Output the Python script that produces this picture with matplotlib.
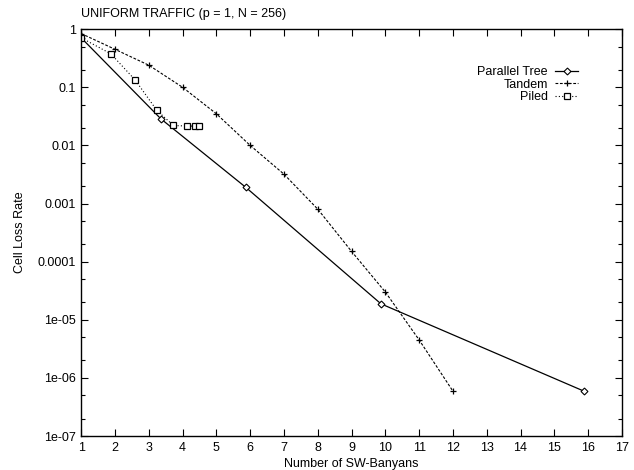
import matplotlib.pyplot as plt
import matplotlib.ticker as ticker
import numpy as np

plt.rcParams['font.family'] = ['Liberation Sans', 'DejaVu Sans']
plt.rcParams['font.size'] = 9

# Parallel Tree
x_tree = np.array([1.0, 3.36, 5.87, 9.87, 15.88])
y_tree = np.array([0.71, 0.0286, 0.0019, 1.88e-5, 5.9e-7])

# Tandem
x_tandem = np.array([1, 2, 3, 4, 5, 6, 7, 8, 9, 10, 11, 12])
y_tandem = np.array([0.84, 0.45, 0.24, 0.1, 0.035, 0.01, 0.0032, 0.0008,
                     0.00015, 3.0e-5, 4.5e-6, 5.9e-7])

# Piled
x_piled = np.array([1.0, 1.88, 2.6, 3.24, 3.73, 4.13, 4.37, 4.49])
y_piled = np.array([0.71, 0.376, 0.133, 0.04, 0.022, 0.0215, 0.0215, 0.0215])

fig = plt.figure(figsize=(6.34, 4.70), dpi=100)
ax = fig.add_axes([0.128, 0.0723, 0.853, 0.8657])

ax.plot(x_tree, y_tree, '-', color='black', lw=0.9, marker='D', markersize=3.5,
        markerfacecolor='white', markeredgewidth=0.8, label='Parallel Tree')
ax.plot(x_tandem, y_tandem, color='black', lw=0.8, dashes=(2.5, 1.5), marker='+',
        markersize=5, markeredgewidth=0.9, label='Tandem')
ax.plot(x_piled, y_piled, color='black', lw=0.8, dashes=(1, 2), marker='s',
        markersize=5, markerfacecolor='white', markeredgewidth=0.9, label='Piled')

ax.set_yscale('log')
ax.set_xlim(1, 17)
ax.set_ylim(1e-7, 1)
ax.set_xticks(np.arange(1, 18))
ax.yaxis.set_major_locator(ticker.FixedLocator([10.0 ** k for k in range(-7, 1)]))
ax.yaxis.set_minor_locator(ticker.FixedLocator(
    [m * 10.0 ** k for k in range(-7, 0) for m in (2, 5)]))
ax.yaxis.set_minor_formatter(ticker.NullFormatter())
ylabels = ['1e-07', '1e-06', '1e-05', '0.0001', '0.001', '0.01', '0.1', '1']
ax.set_yticklabels(ylabels)
ax.tick_params(which='both', direction='in', top=True, right=True, labelsize=9)
ax.tick_params(which='major', length=5, width=0.8, pad=4)
ax.tick_params(which='minor', length=3, width=0.8)
for s in ax.spines.values():
    s.set_linewidth(1.0)

ax.set_xlabel('Number of SW-Banyans', fontsize=9, labelpad=3)
ax.set_ylabel('Cell Loss Rate', fontsize=9, labelpad=8)
ax.set_title('UNIFORM TRAFFIC (p = 1, N = 256)', fontsize=9, loc='left', pad=9)

ax.legend(loc='upper right', bbox_to_anchor=(0.93, 0.925), frameon=False,
          markerfirst=False, handlelength=1.8, handletextpad=0.6,
          labelspacing=0.05, borderpad=0, fontsize=9)

fig.savefig('out.png', dpi=100)
